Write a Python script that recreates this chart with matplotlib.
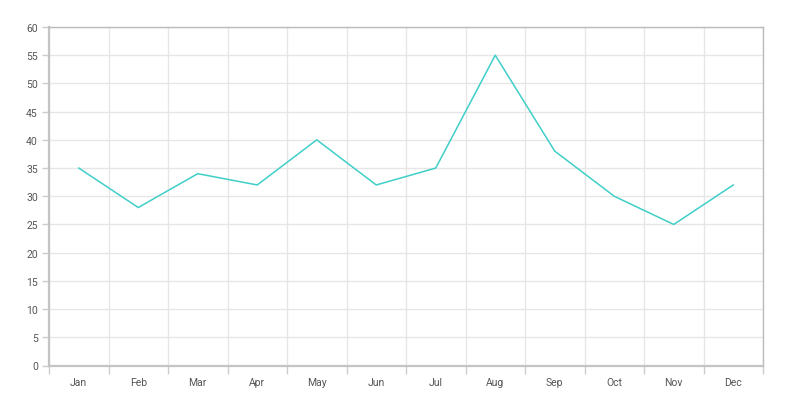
import numpy as np
import matplotlib
matplotlib.use("Agg")
import matplotlib.pyplot as plt

months = ["Jan", "Feb", "Mar", "Apr", "May", "Jun",
          "Jul", "Aug", "Sep", "Oct", "Nov", "Dec"]
values = [35, 28, 34, 32, 40, 32, 35, 55, 38, 30, 25, 32]

plt.rcParams['font.family'] = ['Roboto', 'DejaVu Sans']

fig = plt.figure(figsize=(8.1, 4.02), dpi=100)
ax = fig.add_axes([49 / 810, 1 - 366.5 / 402, 714 / 810, 338.5 / 402])

x = np.arange(len(months))
ax.plot(x, values, color="#3fcfc8", linewidth=1.1)

ax.set_xlim(-0.5, len(months) - 0.5)
ax.set_ylim(0, 60)

# grid lines at band edges, labels at band centres
ax.set_xticks(x)
ax.set_xticklabels(months)
ax.set_xticks(np.arange(-0.5, len(months), 1), minor=True)
ax.set_yticks(np.arange(0, 61, 5))

ax.grid(True, which="minor", axis="x", color="#e6e6e6", linewidth=1)
ax.grid(True, which="major", axis="y", color="#e6e6e6", linewidth=1)
ax.set_axisbelow(True)

ax.tick_params(axis="x", which="major", length=0, pad=8, labelsize=7.5, labelcolor="#555555")
ax.tick_params(axis="x", which="minor", length=6, width=1, color="#cccccc")
ax.tick_params(axis="y", length=5, width=1, color="#cccccc", pad=3, labelsize=7.5, labelcolor="#555555")

for side in ["left", "bottom"]:
    ax.spines[side].set_color("#c4c4c4")
    ax.spines[side].set_linewidth(1.6)
for side in ["right", "top"]:
    ax.spines[side].set_color("#bbbbbb")
    ax.spines[side].set_linewidth(1)

fig.savefig("out.png", dpi=100, facecolor="white")
